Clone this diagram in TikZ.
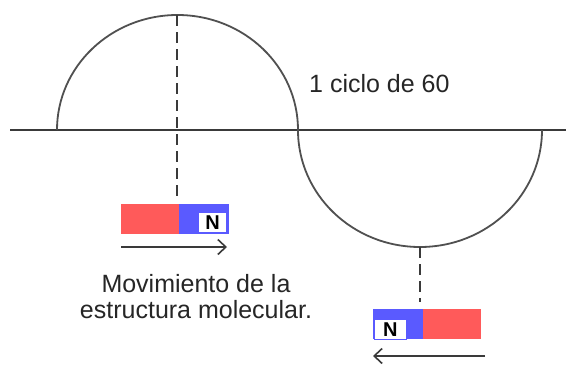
\documentclass[tikz,border=0pt]{standalone}
\usepackage{fontspec}
\setmainfont{Liberation Sans}
\usetikzlibrary{arrows.meta}
\definecolor{magred}{HTML}{FF5A5A}
\definecolor{magblue}{HTML}{5A5AFF}
\definecolor{linegray}{HTML}{3A3A3A}
\definecolor{arcgray}{HTML}{505050}
\tikzset{
  axisline/.style={draw=linegray, line width=2pt},
  wave/.style={draw=arcgray, line width=1.8pt},
  guide/.style={draw=linegray, line width=1.8pt, dash pattern=on 11pt off 6pt},
  redpart/.style={fill=magred, draw=none, inner sep=0pt, minimum height=30pt},
  bluepart/.style={fill=magblue, draw=none, inner sep=0pt, minimum height=30pt},
  nbox/.style={fill=white, draw=magblue, line width=0.8pt, inner sep=0pt, minimum width=28pt, minimum height=20pt, font=\fontsize{20}{20}\selectfont\bfseries},
  movearrow/.style={draw=linegray, line width=1.8pt, -{Straight Barb[length=8pt,width=15pt,line width=1.6pt]}},
  label/.style={font=\fontsize{25}{26}\selectfont, inner sep=0pt, text=black!85}
}
\begin{document}
\begin{tikzpicture}[x=1pt,y=-1pt]
\useasboundingbox[fill=white] (0,0) rectangle (566,370);
% axis
\coordinate (axL) at (10,130);
\coordinate (axR) at (566,130);
\draw[axisline] (axL) -- (axR);
% waves
\coordinate (w0) at (57,130);
\coordinate (w1) at (298,130);
\draw[wave] (w0) arc[start angle=180, end angle=360, x radius=120.5, y radius=115];
\draw[wave] (w1) arc[start angle=180, end angle=0, x radius=122, y radius=117];
% guides
\coordinate (top1) at (177,15);
\coordinate (bot1) at (177,196);
\coordinate (top2) at (420,247);
\coordinate (bot2) at (420,302);
\draw[guide] (top1) -- (bot1);
\draw[guide] (top2) -- (bot2);
% magnet 1
\node[redpart, minimum width=58pt, anchor=north west] (r1) at (121,204) {};
\node[bluepart, minimum width=50pt, anchor=north west] (b1) at (179,204) {};
\node[nbox, anchor=south east] (n1) at (227,233) {N};
\coordinate (a1s) at (121,247);
\coordinate (a1e) at (227,247);
\draw[movearrow] (a1s) -- (a1e);
% magnet 2
\node[bluepart, minimum width=50pt, anchor=north west] (b2) at (373,309) {};
\node[redpart, minimum width=58pt, anchor=north west] (r2) at (423,309) {};
\node[nbox, minimum width=32pt, anchor=south west] (n2) at (374,340) {N};
\coordinate (a2s) at (485,356);
\coordinate (a2e) at (373,356);
\draw[movearrow] (a2s) -- (a2e);
% labels
\node[label, anchor=base west] (t1) at (309,92) {1 ciclo de 60};
\node[label, align=center, anchor=base] (t2) at (196,318) {Movimiento de la\\estructura molecular.};
\end{tikzpicture}
\end{document}
